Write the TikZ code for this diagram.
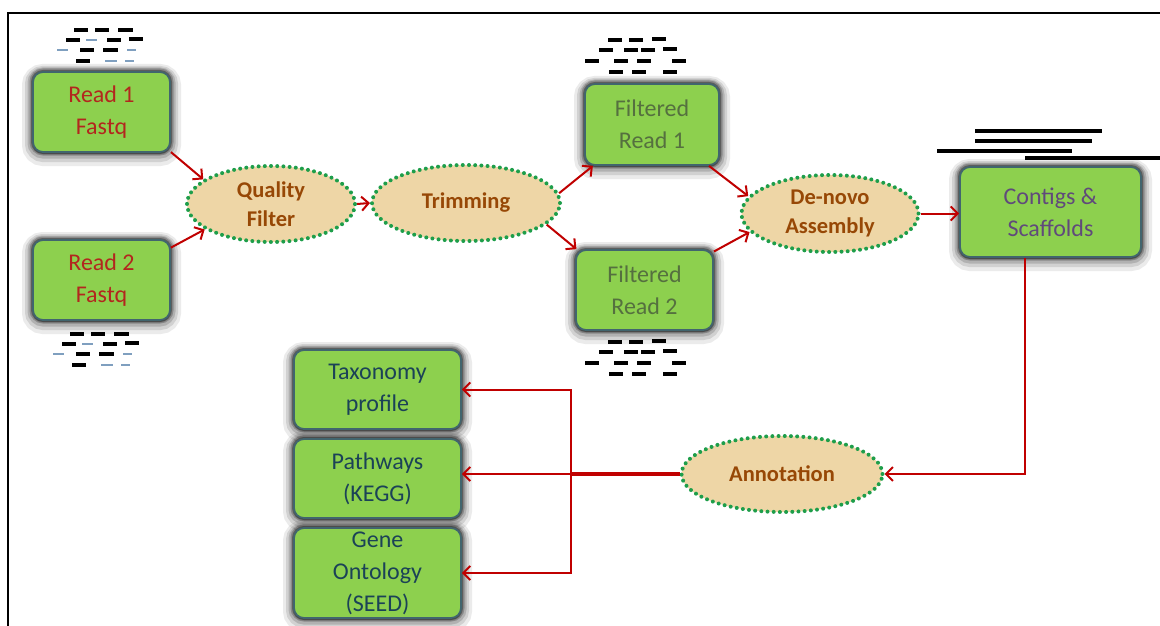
\documentclass[tikz,border=0pt]{standalone}
\usepackage{fontspec}
\setmainfont{Carlito}
\usetikzlibrary{shapes.geometric,arrows.meta}
\definecolor{boxgreen}{HTML}{8DD04E}
\definecolor{boxedge}{HTML}{41656E}
\definecolor{papyrus}{HTML}{EED6A6}
\definecolor{dotgreen}{HTML}{1E9E4A}
\definecolor{ovaltext}{HTML}{974806}
\definecolor{linkred}{HTML}{C00000}
\definecolor{readtext}{HTML}{B3261E}
\definecolor{filtext}{HTML}{55703F}
\definecolor{contigtext}{HTML}{604A7B}
\definecolor{annotext}{HTML}{1B4257}
\definecolor{thinread}{HTML}{7F9FBF}
\tikzset{
  glow/.style={preaction={draw=black,fill=black,opacity=0.08,line width=22pt,transform canvas={yshift=-3pt}},
               preaction={draw=black,fill=black,opacity=0.11,line width=16pt,transform canvas={yshift=-2pt}},
               preaction={draw=black,fill=black,opacity=0.15,line width=11pt,transform canvas={yshift=-1pt}},
               preaction={draw=black,opacity=0.22,line width=7pt},
               preaction={draw=black,opacity=0.32,line width=4pt}},
  gbox/.style={glow, rounded corners=10pt, fill=boxgreen, draw=boxedge, line width=1.8pt,
               inner sep=0pt, align=center, font=\fontsize{24}{32}\selectfont},
  oval/.style={ellipse, fill=papyrus, draw=dotgreen, line width=4pt,
               dash pattern=on 0pt off 6.2pt, line cap=round, inner sep=0pt, align=center,
               font=\bfseries\fontsize{22.5}{29}\selectfont, text=ovaltext},
  link/.style={draw=linkred, line width=2pt, -{Straight Barb[length=7pt,width=14pt]}},
  thickread/.style={line width=3.6pt, black},
  thinr/.style={line width=1.4pt, thinread},
  contigline/.style={line width=3.4pt, black}
}
\begin{document}
\begin{tikzpicture}[x=1pt,y=-1pt]
\useasboundingbox (0,0) rectangle (1160,626);
\fill[white] (0,0) rectangle (1160,626);
% frame
\draw[line width=2.2pt] (8,626) -- (8,13) -- (1160,13);

% read dash groups
\foreach \dx/\dy in {0/0, -4/304}{
 \begin{scope}[shift={(\dx,\dy)}]
  \draw[thickread] (74,30) -- (88,30) (95,30) -- (109,30) (118,30) -- (133,30)
                   (66,40) -- (80,40) (107,40) -- (121,40) (129,39) -- (143,39)
                   (80,50) -- (94,50) (103,50) -- (118,50) (76,61) -- (90,61);
  \draw[thinr] (86,40) -- (97,40) (57,50) -- (68,50) (127,50) -- (136,50)
               (105,61) -- (117,61) (125,61) -- (134,61);
 \end{scope}}
% filtered dash groups
\foreach \dy in {0, 302}{
 \begin{scope}[shift={(0,\dy)}]
  \draw[thickread] (608,40) -- (622,40) (629,40) -- (643,40) (652,39) -- (666,39)
                   (599,50) -- (613,50) (624,50) -- (638,50) (641,50) -- (655,50) (663,49) -- (677,49)
                   (585,61) -- (599,61) (614,61) -- (628,61) (637,61) -- (651,61) (672,61) -- (686,61)
                   (609,72) -- (623,72) (632,72) -- (646,72) (663,72) -- (677,72);
 \end{scope}}
% contig lines
\draw[contigline] (975,131) -- (1102,131) (975,141) -- (1092,141)
                  (937,151) -- (1072,151) (1025,158) -- (1160,158);

% boxes
\node[gbox, minimum width=137pt, minimum height=80pt, text=readtext] (r1) at (101.5,112) {Read 1\\Fastq};
\node[gbox, minimum width=137pt, minimum height=80pt, text=readtext] (r2) at (101.5,280) {Read 2\\Fastq};
\node[gbox, minimum width=134pt, minimum height=81pt, text=filtext] (fr1) at (652,124.5) {Filtered\\Read 1};
\node[gbox, minimum width=137pt, minimum height=80pt, text=filtext] (fr2) at (644.5,290) {Filtered\\Read 2};
\node[gbox, minimum width=181pt, minimum height=90pt, text=contigtext] (cs) at (1050.5,212) {Contigs \&\\Scaffolds};
\node[gbox, minimum width=167pt, minimum height=79pt, text=annotext] (tax) at (377.5,389.5) {Taxonomy\\profile};
\node[gbox, minimum width=167pt, minimum height=79pt, text=annotext] (pw) at (377.5,478.5) {Pathways\\(KEGG)};
\node[gbox, minimum width=167pt, minimum height=90pt, text=annotext] (go) at (377.5,573) {Gene\\Ontology\\(SEED)};

% ovals
\node[oval, minimum width=168pt, minimum height=76pt] (qf) at (271,204) {Quality\\Filter};
\node[oval, minimum width=188pt, minimum height=76pt] (trim) at (466,203) {Trimming};
\node[oval, minimum width=177pt, minimum height=77pt] (dn) at (830,213.5) {De-novo\\Assembly};
\node[oval, minimum width=201pt, minimum height=76pt] (an) at (782,474) {Annotation};

% connectors
\draw[link] (r1.-30) -- (qf.160);
\draw[link] (r2.25) -- (qf.-159);
\draw[link] (qf.east) -- (trim.west);
\draw[link] (trim.6) -- (fr1.-145);
\draw[link] (trim.-15) -- (fr2.149);
\draw[link] (fr1.-36) -- (dn.168);
\draw[link] (fr2.29) -- (dn.-167);
\draw[link] (dn.east) -- (dn.east -| cs.west);
\draw[link] (cs.south) ++(-25.5,0) |- (an.east);
\coordinate (hub) at (571,474);
\draw[linkred, line width=4.5pt] (an.west) -- (hub);
\draw[link] (hub) |- (tax.east);
\draw[link] (hub) -- (hub -| pw.east);
\draw[link] (hub) |- (go.east);
\end{tikzpicture}
\end{document}
